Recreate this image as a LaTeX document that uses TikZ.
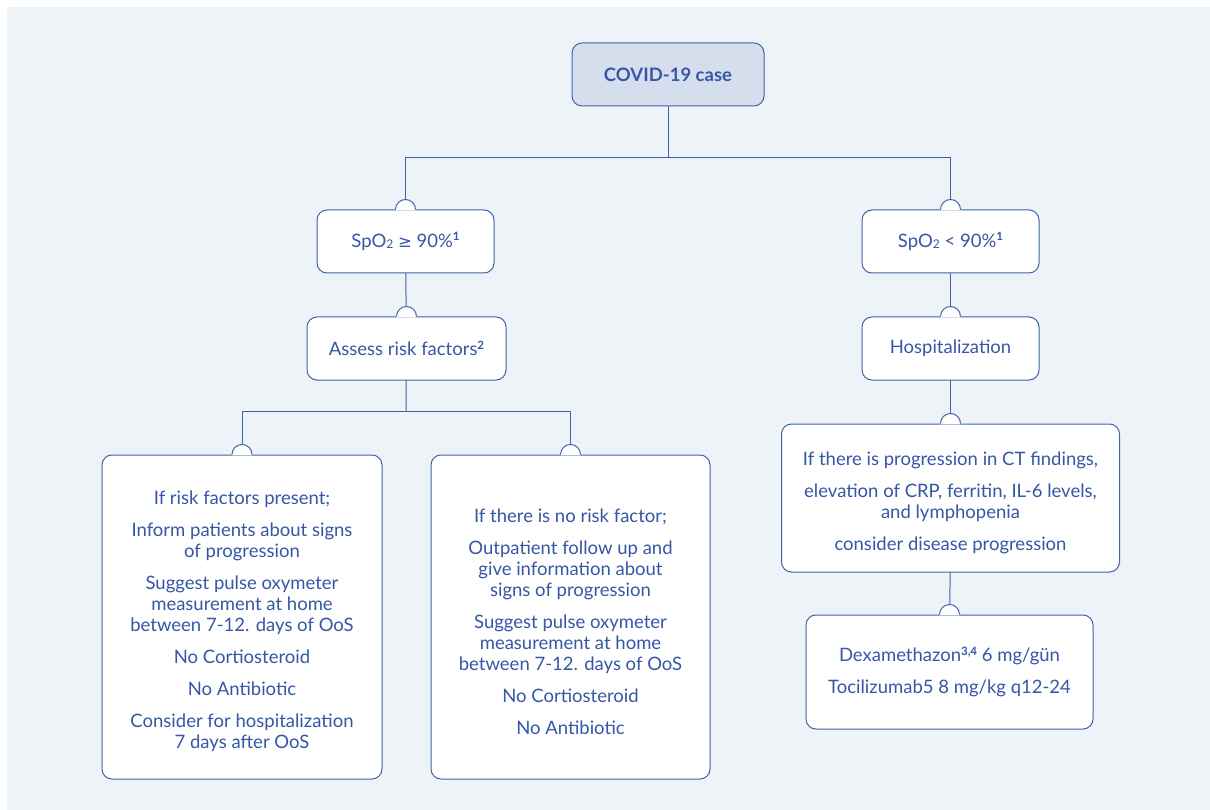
\documentclass[tikz,border=0pt]{standalone}
\usepackage{fontspec}
\setmainfont{Lato}
\newfontfamily\symfont{DejaVu Sans}
\definecolor{bg}{HTML}{EEF3F8}
\definecolor{ln}{HTML}{4062AC}
\definecolor{tx}{HTML}{3557A5}
\definecolor{topfill}{HTML}{D5DEEC}
\newcommand{\subtwo}{\raisebox{-0.15ex}{\fontsize{12}{12}\selectfont 2}}
\newcommand{\supb}[1]{\raisebox{0.7ex}{\fontsize{11.5}{11.5}\selectfont\bfseries #1}}
\tikzset{
  box/.style={draw=ln, line width=1pt, rounded corners=10pt, fill=white, text=tx,
    align=center, font=\fontsize{18.5}{21}\selectfont, inner sep=0pt},
  txt/.style={text=tx, align=center, font=\fontsize{18.5}{21}\selectfont, inner sep=0pt, yshift=-4.5pt},
  conn/.style={draw=ln, line width=1pt},
}
\begin{document}
\begin{tikzpicture}[x=1pt,y=-1pt]
\useasboundingbox (0,0) rectangle (1210,810);
\fill[bg] (7,7) rectangle (1210,810);

% coordinates for nodes (centers)
\coordinate (pcase) at (668,74.5);
\coordinate (ps1) at (405.5,241.5);
\coordinate (ps2) at (950.5,241.5);
\coordinate (par) at (406.5,348.5);
\coordinate (phosp) at (950.5,348.5);
\coordinate (pL) at (242,617);
\coordinate (pM) at (570.5,617);
\coordinate (pP) at (950.5,498);
\coordinate (pD) at (949.5,672);

% connectors
\coordinate (j1) at (668,158);
\coordinate (j2) at (406,411);
\draw[conn] (pcase) -- (j1);
\draw[conn] (j1) -| (ps1);
\draw[conn] (j1) -| (ps2);
\draw[conn] (ps1) -- (par);
\draw[conn] (ps2) -- (phosp);
\draw[conn] (par) -- (j2);
\draw[conn] (j2) -| (pL);
\draw[conn] (j2) -| (pM);
\draw[conn] (phosp) -- (pP);
\draw[conn] (pP) -- (pD);

% nodes
\node[box, fill=topfill, minimum width=192pt, minimum height=63pt, font=\fontsize{18.5}{21}\selectfont\bfseries] (case) at (pcase) {COVID-19 case};
\node[box, minimum width=177pt, minimum height=63pt] (s1) at (ps1) {SpO\subtwo{} {\symfont\fontsize{16.5}{21}\selectfont ≥} 90\%\supb{1}};
\node[box, minimum width=177pt, minimum height=63pt] (s2) at (ps2) {SpO\subtwo{} < 90\%\supb{1}};
\node[box, minimum width=199pt, minimum height=63pt] (ar) at (par) {Assess risk factors\supb{2}};
\node[box, minimum width=177pt, minimum height=63pt] (hosp) at (phosp) {Hospitalization};
\node[box, minimum width=280pt, minimum height=324pt] (L) at (pL) {};
\node[txt] (Lt) at (L.center) {If risk factors present;\\[11pt]
Inform patients about signs\\of progression\\[11pt]
Suggest pulse oxymeter\\measurement at home\\between 7-12. days of OoS\\[11pt]
No Cortiosteroid\\[11pt]
No Antibiotic\\[11pt]
Consider for hospitalization\\7 days after OoS};
\node[box, minimum width=279pt, minimum height=324pt] (M) at (pM) {};
\node[txt] (Mt) at (M.center) {If there is no risk factor;\\[11pt]
Outpatient follow up and\\give information about\\signs of progression\\[11pt]
Suggest pulse oxymeter\\measurement at home\\between 7-12. days of OoS\\[11pt]
No Cortiosteroid\\[11pt]
No Antibiotic};
\node[box, minimum width=338pt, minimum height=148pt] (P) at (pP) {};
\node[txt] (Pt) at (P.center) {If there is progression in CT findings,\\[11pt]
elevation of CRP, ferritin, IL-6 levels,\\and lymphopenia\\[11pt]
consider disease progression};
\node[box, minimum width=287pt, minimum height=114pt] (D) at (pD) {Dexamethazon\supb{3,4} 6 mg/gün\\[11pt]
Tocilizumab5 8 mg/kg q12-24};

% bumps
\foreach \n in {s1,s2,ar,hosp,L,M,P,D}{
  \fill[white] ([xshift=-10pt,yshift=-0.8pt]\n.north) -- ([xshift=-10pt]\n.north) arc[start angle=180,end angle=360,radius=10] -- ([xshift=10pt,yshift=-0.8pt]\n.north) -- cycle;
  \draw[ln, line width=1pt] ([xshift=-10pt]\n.north) arc[start angle=180,end angle=360,radius=10];
}
\end{tikzpicture}
\end{document}
